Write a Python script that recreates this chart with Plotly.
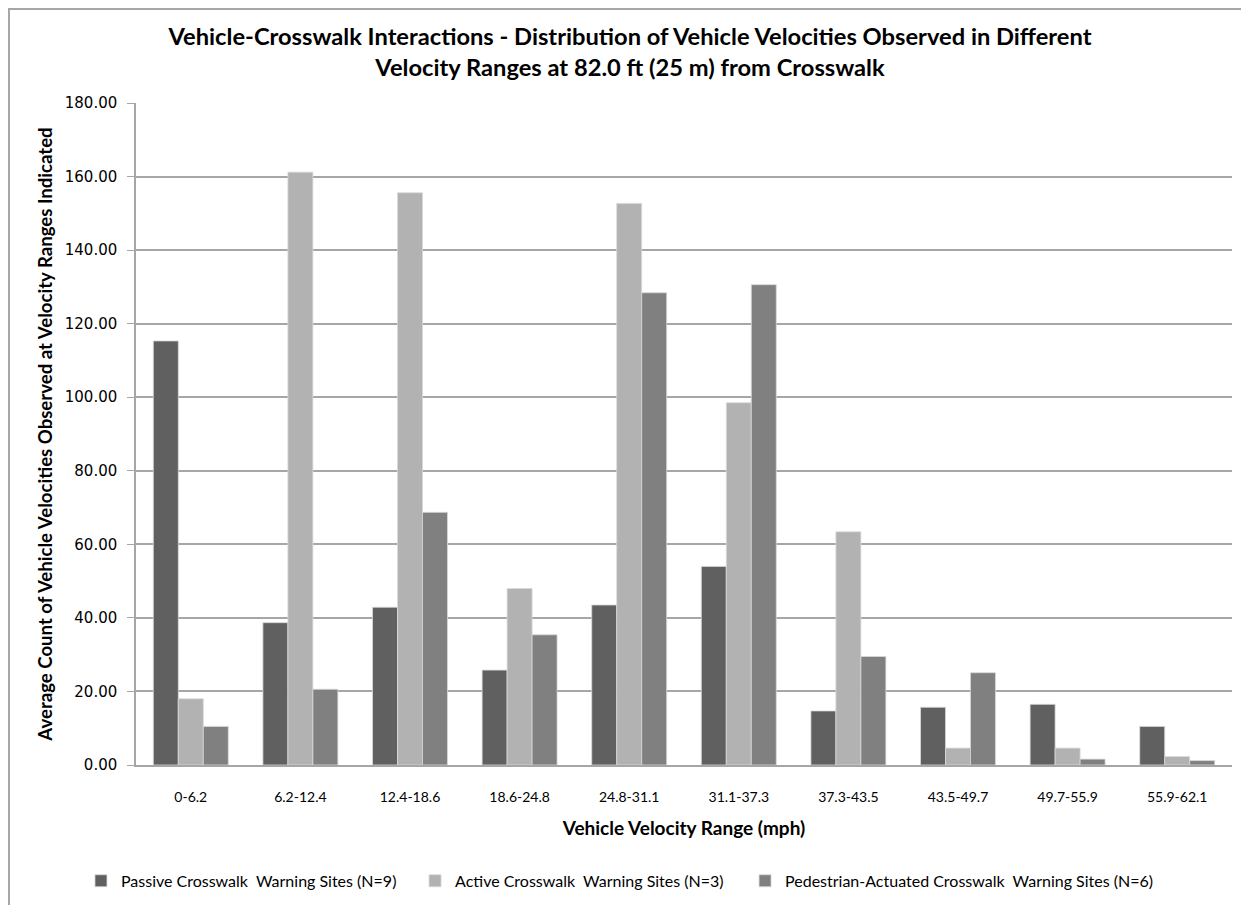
import plotly.graph_objects as go

# Velocity ranges (mph) and average counts per site type
ranges = ["0-6.2", "6.2-12.4", "12.4-18.6", "18.6-24.8", "24.8-31.1",
          "31.1-37.3", "37.3-43.5", "43.5-49.7", "49.7-55.9", "55.9-62.1"]
passive = [115.3, 38.7, 42.9, 25.8, 43.5, 54.0, 14.7, 15.7, 16.5, 10.5]
active = [18.0, 161.2, 155.6, 48.0, 152.7, 98.5, 63.4, 4.6, 4.6, 2.3]
ped_actuated = [10.5, 20.6, 68.7, 35.4, 128.4, 130.6, 29.5, 25.1, 1.6, 1.2]

series_names = ["Passive Crosswalk  Warning Sites (N=9)",
                "Active Crosswalk  Warning Sites (N=3)",
                "Pedestrian-Actuated Crosswalk  Warning Sites (N=6)"]
series_colors = ["#606060", "#b2b2b2", "#808080"]

FONT = "Lato, Liberation Sans, sans-serif"

# one legend per series so each entry can sit where Excel put it
legend_ids = ["legend", "legend2", "legend3"]
legend_x = [-0.0502, 0.2546, 0.5557]

fig = go.Figure()
for name, vals, col, lg in zip(series_names, [passive, active, ped_actuated],
                               series_colors, legend_ids):
    fig.add_trace(go.Bar(
        x=ranges, y=vals, name=name, legend=lg,
        marker=dict(color=col, line=dict(color="#d9d9d9", width=0.8)),
    ))

legend_style = dict(orientation="h", xanchor="left", y=-0.175, yanchor="middle",
                    font=dict(family=FONT, size=16, color="black"),
                    itemwidth=30, bgcolor="rgba(0,0,0,0)")

fig.update_layout(
    width=1249, height=905,
    paper_bgcolor="white", plot_bgcolor="white",
    margin=dict(l=128, r=25, t=95, b=148, autoexpand=False),
    barmode="group", bargap=0.316, bargroupgap=0,
    title=dict(
        text="Vehicle-Crosswalk Interactions - Distribution of Vehicle Velocities Observed in Different<br>"
             "Velocity Ranges at 82.0 ft (25 m) from Crosswalk",
        x=0.498, xref="container", xanchor="center",
        y=0.959, yref="container", yanchor="top",
        font=dict(family=FONT, size=23.7, color="black", weight="bold"),
    ),
    font=dict(family=FONT, color="black"),
    legend=dict(x=legend_x[0], **legend_style),
    legend2=dict(x=legend_x[1], **legend_style),
    legend3=dict(x=legend_x[2], **legend_style),
    showlegend=True,
)

fig.update_yaxes(
    range=[0, 180], dtick=20, tickformat=".2f",
    showgrid=True, gridcolor="#a6a6a6", gridwidth=1.5,
    showline=True, linecolor="#a6a6a6", linewidth=1.5,
    ticks="outside", ticklen=7, tickcolor="#a6a6a6", ticklabelstandoff=7,
    tickfont=dict(family="DejaVu Sans", size=15, color="black"),
    zeroline=False, automargin=False,
    title=dict(text="Average Count of Vehicle Velocities Observed at Velocity Ranges Indicated",
               font=dict(family=FONT, size=18.6, color="black", weight="bold"), standoff=7),
)
fig.update_xaxes(
    showline=True, linecolor="#a6a6a6", linewidth=1.5,
    ticks="", ticklabelstandoff=18, automargin=False,
    tickfont=dict(family=FONT, size=14, color="black"),
    title=dict(text="Vehicle Velocity Range (mph)",
               font=dict(family=FONT, size=19, color="black", weight="bold"), standoff=18),
)

# chart-area border
fig.add_shape(type="rect", xref="paper", yref="paper",
              x0=-0.1159, x1=1.04, y0=-0.24, y1=1.142,
              line=dict(color="#a6a6a6", width=2), fillcolor="rgba(0,0,0,0)", layer="below")

fig.write_html("out.html")
